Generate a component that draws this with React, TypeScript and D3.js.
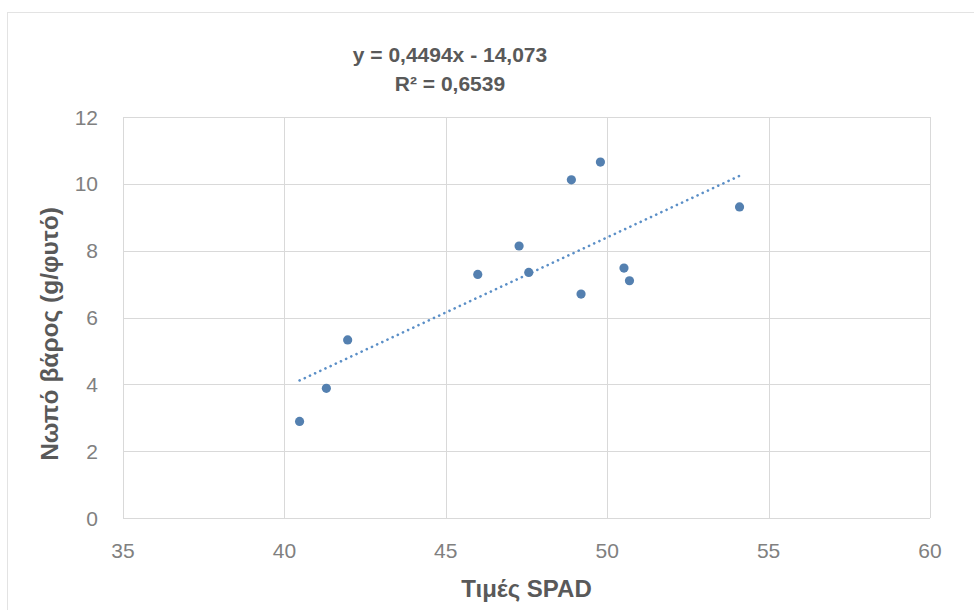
import React, { useEffect, useRef } from 'react';
import * as d3 from 'd3';

// SPAD readings and fresh weight per plant
const spadValues = [40.47, 41.3, 41.96, 45.99, 47.27, 47.57, 48.89, 49.19, 49.79, 50.52, 50.69, 54.1];
const freshWeight = [2.89, 3.88, 5.33, 7.29, 8.14, 7.35, 10.12, 6.7, 10.65, 7.48, 7.1, 9.31];

// trendline as printed on the chart
const slope = 0.4494;
const intercept = -14.073;
const equationLines = ['y = 0,4494x - 14,073', 'R² = 0,6539'];

const xTicks = [35, 40, 45, 50, 55, 60];
const yTicks = [0, 2, 4, 6, 8, 10, 12];

const xTitle = 'Τιμές SPAD';
const yTitle = 'Νωπό βάρος (g/φυτό)';

const FONT = '"Liberation Sans Narrow", "Liberation Sans", Arial, sans-serif';

const App = () => {
  const svgRef = useRef<SVGSVGElement | null>(null);

  useEffect(() => {
    if (!svgRef.current) return;
    const svg = d3.select(svgRef.current);
    svg.selectAll('*').remove();

    const left = 123, right = 930, top = 117, bottom = 518;

    const x = d3.scaleLinear().domain([35, 60]).range([left, right]);
    const y = d3.scaleLinear().domain([0, 12]).range([bottom, top]);

    // outer chart frame
    svg.append('rect')
      .attr('x', 7.5).attr('y', 12.5)
      .attr('width', 990).attr('height', 620)
      .attr('fill', '#fff')
      .attr('stroke', '#e3e3e3');

    // grid
    const grid = svg.append('g').attr('stroke', '#d9d9d9').attr('stroke-width', 1);
    xTicks.forEach(t => {
      grid.append('line')
        .attr('x1', Math.round(x(t)) + 0.5).attr('x2', Math.round(x(t)) + 0.5)
        .attr('y1', top).attr('y2', bottom);
    });
    yTicks.forEach(t => {
      grid.append('line')
        .attr('x1', left).attr('x2', right)
        .attr('y1', Math.round(y(t)) + 0.5).attr('y2', Math.round(y(t)) + 0.5);
    });

    // tick labels
    svg.append('g')
      .selectAll('text')
      .data(yTicks)
      .join('text')
      .attr('x', 98)
      .attr('y', d => y(d))
      .attr('dy', '0.36em')
      .attr('text-anchor', 'end')
      .attr('font-family', FONT)
      .attr('font-size', 21)
      .attr('fill', '#808080')
      .text(d => d);

    svg.append('g')
      .selectAll('text')
      .data(xTicks)
      .join('text')
      .attr('x', d => x(d))
      .attr('y', 558)
      .attr('text-anchor', 'middle')
      .attr('font-family', FONT)
      .attr('font-size', 21)
      .attr('fill', '#808080')
      .text(d => d);

    // axis titles
    svg.append('text')
      .attr('x', (left + right) / 2)
      .attr('y', 597)
      .attr('text-anchor', 'middle')
      .attr('font-family', FONT)
      .attr('font-size', 24)
      .attr('font-weight', 'bold')
      .attr('fill', '#595959')
      .text(xTitle);

    svg.append('text')
      .attr('transform', `translate(58,${334}) rotate(-90)`)
      .attr('text-anchor', 'middle')
      .attr('font-family', FONT)
      .attr('font-size', 24.5)
      .attr('font-weight', 'bold')
      .attr('fill', '#595959')
      .text(yTitle);

    // linear trendline over the data range
    const [xMin, xMax] = d3.extent(spadValues) as [number, number];
    svg.append('line')
      .attr('x1', x(xMin)).attr('y1', y(slope * xMin + intercept))
      .attr('x2', x(xMax)).attr('y2', y(slope * xMax + intercept))
      .attr('stroke', '#5b8fc7')
      .attr('stroke-width', 2.6)
      .attr('stroke-linecap', 'round')
      .attr('stroke-dasharray', '0.1,5.6');

    // points
    svg.append('g')
      .selectAll('circle')
      .data(spadValues.map((v, i) => [v, freshWeight[i]]))
      .join('circle')
      .attr('cx', d => x(d[0]))
      .attr('cy', d => y(d[1]))
      .attr('r', 4.6)
      .attr('fill', '#5480b0');

    // equation label
    svg.append('text')
      .attr('font-family', FONT)
      .attr('font-size', 21)
      .attr('font-weight', 'bold')
      .attr('fill', '#595959')
      .attr('text-anchor', 'middle')
      .selectAll('tspan')
      .data(equationLines)
      .join('tspan')
      .attr('x', 450)
      .attr('y', (d, i) => 62 + i * 29)
      .text(d => d);
  }, []);

  return (
    <svg ref={svgRef} width={974} height={610}
      style={{ position: 'absolute', left: 0, top: 0, background: '#fff' }} />
  );
};

export default App;
